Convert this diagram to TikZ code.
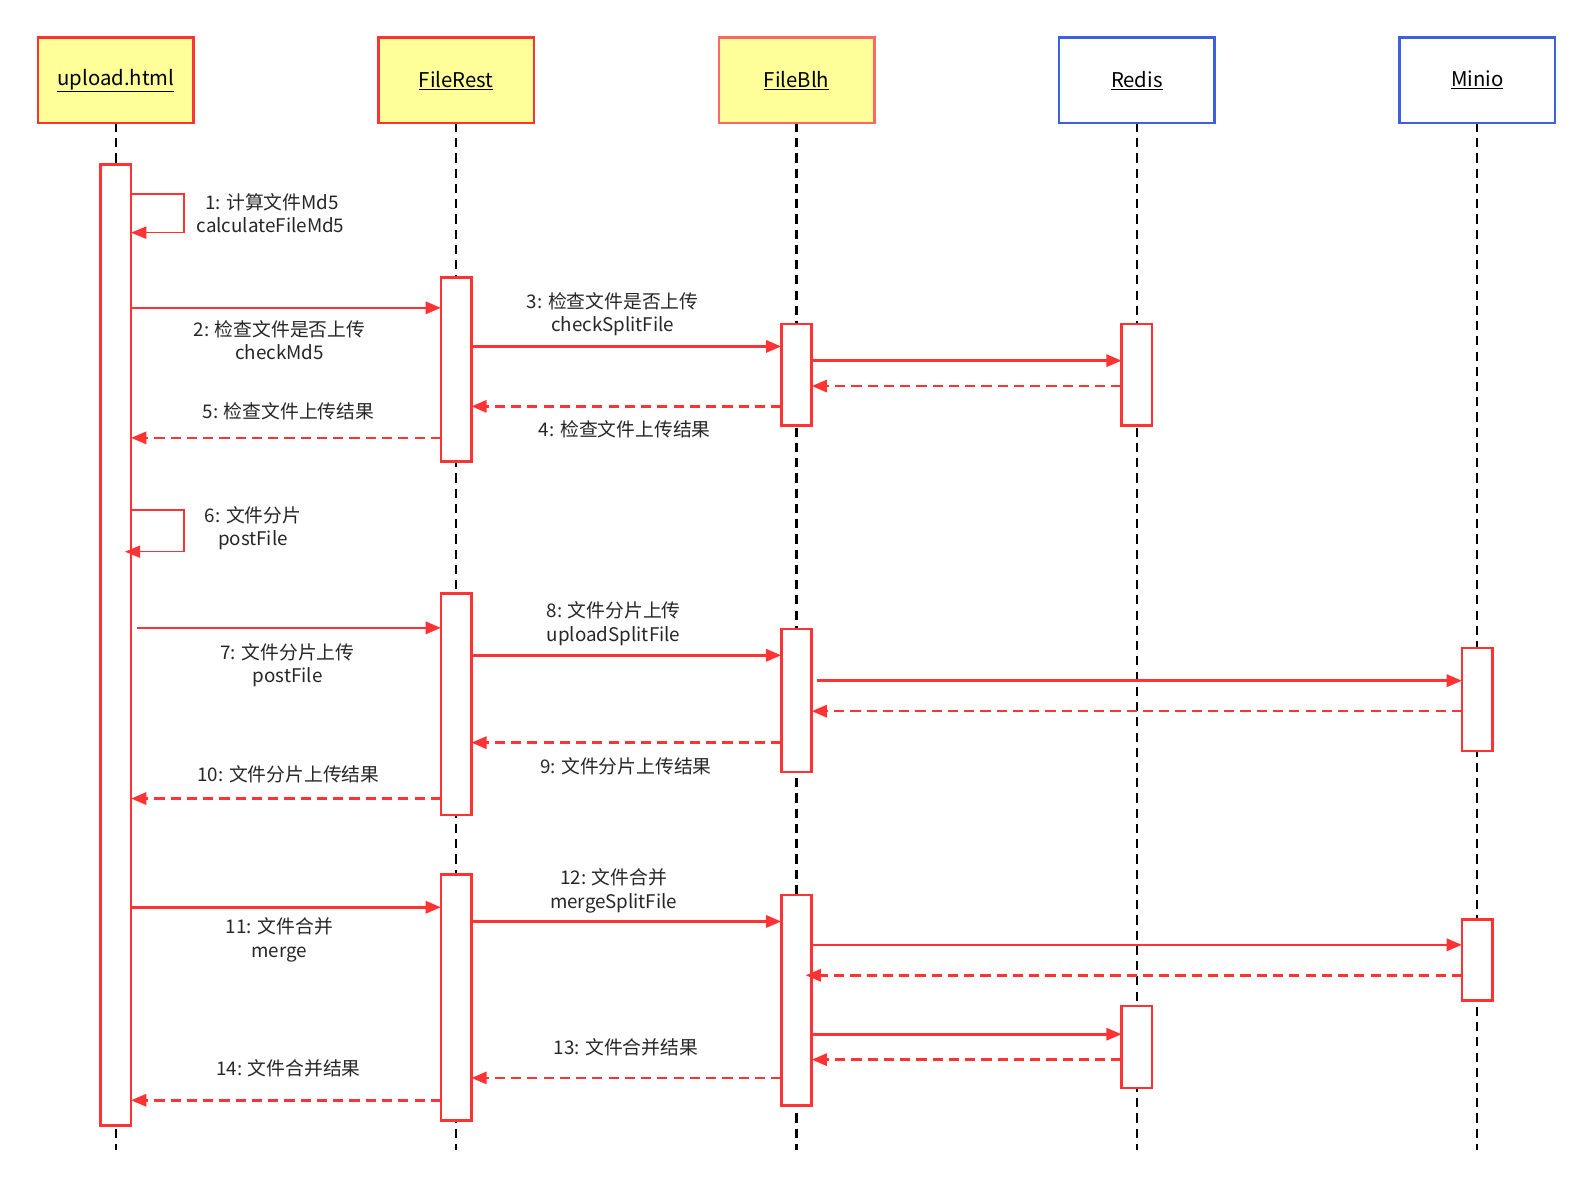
\documentclass[tikz,border=0pt]{standalone}
\usepackage{fontspec}
\setmainfont{Noto Sans CJK SC}
\usetikzlibrary{arrows.meta}
\definecolor{rd}{HTML}{FF3333}
\definecolor{yl}{HTML}{FFFF99}
\definecolor{bl}{HTML}{3D5FE0}
\begin{document}
\begin{tikzpicture}[x=1pt,y=-1pt,
 hdr/.style={draw=rd,fill=yl,line width=2.5pt,minimum width=153pt,minimum height=84pt,font=\fontsize{20}{23}\selectfont},
 hdrb/.style={hdr,draw=bl,fill=white},
 life/.style={dashed,line width=2.2pt,dash pattern=on 9pt off 6pt},
 bar/.style={draw=rd,fill=white,line width=2.5pt},
 msg/.style={draw=rd,line width=2.5pt,-{Triangle[length=15pt,width=12pt]}},
 ret/.style={msg,dash pattern=on 10pt off 6pt},
 lb/.style={font=\fontsize{18.5}{23}\selectfont,align=center,text=black!85}]
\useasboundingbox (0,0) rectangle (1568,1176);
\foreach \x in {114,449,784,1119,1454} \draw[life] (\x,121) -- (\x,1132);
\node[hdr] (u) at (114,79) {\underline{upload.html}};
\node[hdr] (r) at (449,79) {\underline{FileRest}};
\node[hdr,draw=rd!75] (b) at (784,79) {\underline{FileBlh}};
\node[hdrb] (re) at (1119,79) {\underline{Redis}};
\node[hdrb] (m) at (1454,79) {\underline{Minio}};
% bars
\draw[bar] (99,162) rectangle (129,1108);
\draw[bar] (434,273) rectangle (464,454);
\draw[bar] (434,584) rectangle (464,802);
\draw[bar] (434,861) rectangle (464,1103);
\draw[bar] (769,319) rectangle (799,419);
\draw[bar] (769,619) rectangle (799,760);
\draw[bar] (769,881) rectangle (799,1088);
\draw[bar] (1104,319) rectangle (1134,419);
\draw[bar] (1104,990) rectangle (1134,1071);
\draw[bar] (1439,638) rectangle (1469,739);
\draw[bar] (1439,905) rectangle (1469,985);
% self 1
\draw[draw=rd,line width=1.5pt,-{Triangle[length=15pt,width=12pt]}] (129,191) -- (181,191) -- (181,229) -- (129,229);
\node[lb,align=left,anchor=west] at (190,210) {\ \ 1: 计算文件Md5\\calculateFileMd5};
\draw[msg] (129,303) -- (434,303);
\node[lb] at (275,335) {2: 检查文件是否上传\\checkMd5};
\draw[msg] (464,341) -- (769,341);
\node[lb] at (603,309) {3: 检查文件是否上传\\checkSplitFile};
\draw[msg] (799,355) -- (1104,355);
\draw[ret] (1104,380) -- (799,380);
\draw[ret] (769,400) -- (464,400);
\node[lb] at (615,423) {4: 检查文件上传结果};
\draw[ret] (434,431) -- (129,431);
\node[lb] at (284,405) {5: 检查文件上传结果};
\draw[draw=rd,line width=1.5pt,-{Triangle[length=15pt,width=12pt]}] (129,502) -- (181,502) -- (181,543) -- (123,543);
\node[lb] at (249,520) {6: 文件分片\\postFile};
\draw[msg] (135,618) -- (434,618);
\node[lb] at (283,655) {7: 文件分片上传\\postFile};
\draw[msg] (464,645) -- (769,645);
\node[lb] at (604,614) {8: 文件分片上传\\uploadSplitFile};
\draw[msg] (804,670) -- (1439,670);
\draw[ret] (1439,700) -- (799,700);
\draw[ret] (769,731) -- (464,731);
\node[lb] at (616,754) {9: 文件分片上传结果};
\draw[ret] (434,786) -- (129,786);
\node[lb] at (284,762) {10: 文件分片上传结果};
\draw[msg] (129,893) -- (434,893);
\node[lb] at (275,925) {11: 文件合并\\merge};
\draw[msg] (464,907) -- (769,907);
\node[lb] at (604,877) {12: 文件合并\\mergeSplitFile};
\draw[msg] (799,930) -- (1439,930);
\draw[ret] (1439,960) -- (793,960);
\draw[msg] (799,1018) -- (1104,1018);
\draw[ret] (1104,1043) -- (799,1043);
\draw[ret] (769,1061) -- (464,1061);
\node[lb] at (616,1031) {13: 文件合并结果};
\draw[ret] (434,1083) -- (129,1083);
\node[lb] at (284,1052) {14: 文件合并结果};
\end{tikzpicture}
\end{document}
